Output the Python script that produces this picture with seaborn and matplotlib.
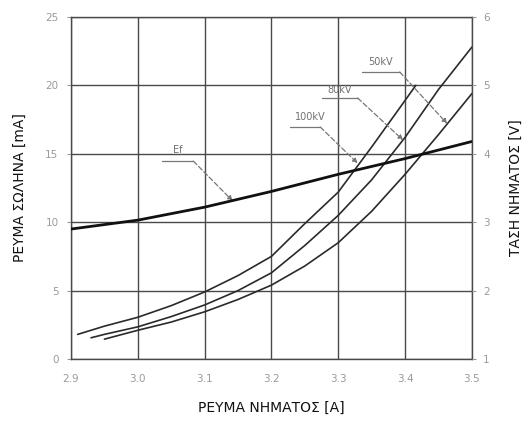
import matplotlib
matplotlib.use("Agg")
import matplotlib.pyplot as plt
import seaborn as sns
import pandas as pd

# Filament current [A] vs tube current [mA] for three tube voltages
x_100kv = [2.91, 2.95, 3.0, 3.05, 3.1, 3.15, 3.2, 3.25, 3.3, 3.35, 3.4, 3.416]
i_100kv = [1.8, 2.4, 3.05, 3.9, 4.9, 6.1, 7.5, 9.9, 12.2, 15.5, 18.9, 20.0]

x_80kv = [2.93, 2.95, 3.0, 3.05, 3.1, 3.15, 3.2, 3.25, 3.3, 3.35, 3.4, 3.45, 3.5]
i_80kv = [1.55, 1.8, 2.35, 3.1, 3.95, 5.0, 6.3, 8.3, 10.5, 13.1, 16.2, 19.7, 22.8]

x_50kv = [2.95, 3.0, 3.05, 3.1, 3.15, 3.2, 3.25, 3.3, 3.35, 3.4, 3.45, 3.5]
i_50kv = [1.45, 2.1, 2.7, 3.45, 4.35, 5.4, 6.8, 8.5, 10.8, 13.5, 16.4, 19.4]

# Filament voltage Ef [V] vs filament current
x_ef = [2.9, 3.0, 3.1, 3.2, 3.3, 3.4, 3.5]
v_ef = [2.90, 3.03, 3.22, 3.45, 3.70, 3.93, 4.18]

x_ticks = [2.9, 3.0, 3.1, 3.2, 3.3, 3.4, 3.5]
x_tick_labels = ["2.9", "3.0", "3.1", "3.2", "3.3", "3.4", "3.5"]
ma_ticks = [0, 5, 10, 15, 20, 25]
v_ticks = [1, 2, 3, 4, 5, 6]

sns.set_style("white")
plt.rcParams["font.family"] = ["DejaVu Sans"]

fig = plt.figure(figsize=(5.32, 4.21), dpi=100)
ax = fig.add_subplot(111)
fig.subplots_adjust(left=0.1335, right=0.887, top=0.9596, bottom=0.1473)

curves = pd.concat([
    pd.DataFrame({"ia": x_100kv, "ma": i_100kv, "kv": "100kV"}),
    pd.DataFrame({"ia": x_80kv, "ma": i_80kv, "kv": "80kV"}),
    pd.DataFrame({"ia": x_50kv, "ma": i_50kv, "kv": "50kV"}),
])
for kv, grp in curves.groupby("kv", sort=False):
    sns.lineplot(data=grp, x="ia", y="ma", ax=ax, color="#2a2a2a",
                 linewidth=1.2, legend=False, sort=True)

ax.set_xlim(2.9, 3.5)
ax.set_ylim(0, 25)
ax.set_xticks(x_ticks)
ax.set_xticklabels(x_tick_labels)
ax.set_yticks(ma_ticks)
ax.grid(True, color="#4a4a4a", linewidth=1.0)
ax.set_axisbelow(True)
for s in ax.spines.values():
    s.set_color("#4a4a4a")
    s.set_linewidth(1.0)
ax.tick_params(axis="both", labelsize=7.5, colors="#9a9a9a", length=3, width=0.8)
ax.tick_params(axis="x", pad=8)
ax.tick_params(axis="y", pad=6)
ax.set_xlabel("ΡΕΥΜΑ ΝΗΜΑΤΟΣ [A]", fontsize=10, color="#111", labelpad=12)
ax.set_ylabel("ΡΕΥΜΑ ΣΩΛΗΝΑ [mA]", fontsize=10, color="#111", labelpad=13)

ax2 = ax.twinx()
sns.lineplot(x=x_ef, y=v_ef, ax=ax2, color="#111111", linewidth=2.0)
ax2.set_ylim(1, 6)
ax2.set_yticks(v_ticks)
ax2.tick_params(axis="y", labelsize=7.5, colors="#9a9a9a", length=3, width=0.8, pad=5)
ax2.set_ylabel("ΤΑΣΗ ΝΗΜΑΤΟΣ [V]", fontsize=10, color="#111", labelpad=14)
for s in ax2.spines.values():
    s.set_visible(False)

# Curve labels with underline and dashed leader
labels = [
    ("100kV", 3.258, 17.7, 3.228, 3.273, 16.96, 3.329, 14.3),
    ("80kV", 3.302, 19.66, 3.276, 3.329, 19.08, 3.397, 16.0),
    ("50kV", 3.363, 21.7, 3.335, 3.392, 20.98, 3.463, 17.2),
    ("Ef", 3.059, 15.28, 3.036, 3.083, 14.47, 3.142, 11.55),
]
for text, tx, ty, ux0, ux1, uy, ax_, ay in labels:
    ax.text(tx, ty, text, fontsize=7, color="#707070", ha="center", va="center")
    ax.plot([ux0, ux1], [uy, uy], color="#777777", linewidth=0.9)
    ax.annotate("", xy=(ax_, ay), xytext=(ux1, uy),
                arrowprops=dict(arrowstyle="-|>", color="#777777", lw=0.9,
                                linestyle=(0, (4, 2)), shrinkA=0, shrinkB=0,
                                mutation_scale=7))

fig.savefig("out.png", dpi=100)
